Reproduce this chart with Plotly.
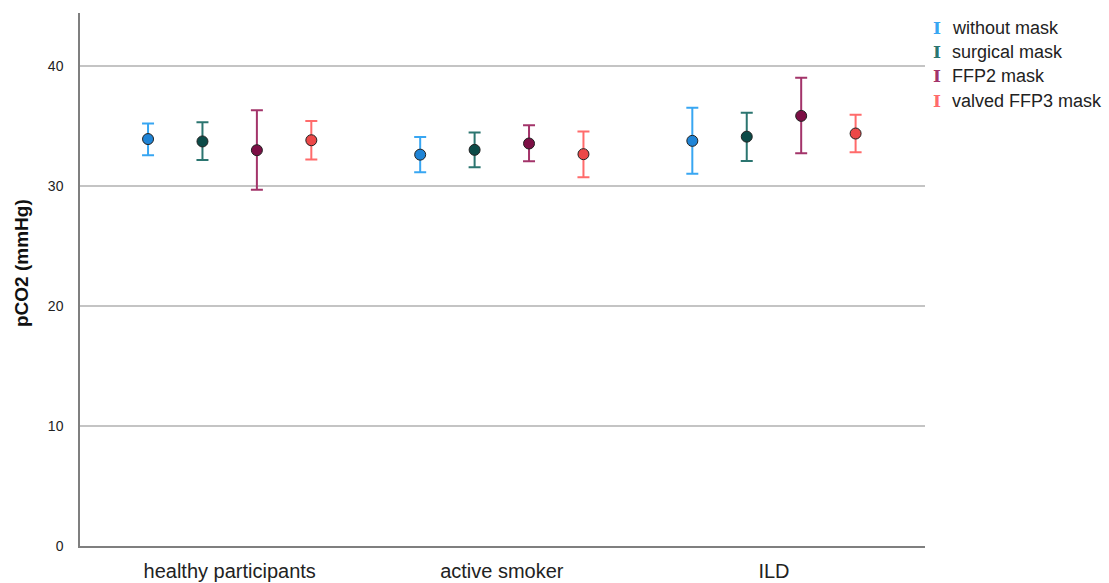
import plotly.graph_objects as go

# Groups on the x axis and mask conditions (series)
groups = ["healthy participants", "active smoker", "ILD"]
conditions = ["without mask", "surgical mask", "FFP2 mask", "valved FFP3 mask"]

# Mean pCO2 (mmHg) per condition, one value per group
mean_without = [33.9, 32.6, 33.75]
mean_surgical = [33.7, 33.0, 34.1]
mean_ffp2 = [32.97, 33.53, 35.83]
mean_ffp3 = [33.8, 32.64, 34.36]

# Upper / lower ends of the error bars
upper_without = [35.2, 34.08, 36.5]
lower_without = [32.55, 31.14, 31.0]
upper_surgical = [35.3, 34.45, 36.1]
lower_surgical = [32.15, 31.56, 32.08]
upper_ffp2 = [36.3, 35.05, 39.0]
lower_ffp2 = [29.67, 32.06, 32.72]
upper_ffp3 = [35.4, 34.53, 35.92]
lower_ffp3 = [32.2, 30.72, 32.8]

means = [mean_without, mean_surgical, mean_ffp2, mean_ffp3]
uppers = [upper_without, upper_surgical, upper_ffp2, upper_ffp3]
lowers = [lower_without, lower_surgical, lower_ffp2, lower_ffp3]

bar_colors = ["#38a6f2", "#2b7570", "#a3346a", "#ff6b6b"]
dot_colors = ["#1f84d6", "#0c4b48", "#7c0f45", "#ec4848"]
offsets = [-0.3, -0.1, 0.1, 0.3]

fig = go.Figure()

for name, m, up, lo, bc, dc, off in zip(conditions, means, uppers, lowers,
                                        bar_colors, dot_colors, offsets):
    xs = [i + off for i in range(len(groups))]
    fig.add_trace(go.Scatter(
        x=xs, y=m, mode="markers", name=name, showlegend=False,
        marker=dict(size=11, color=dc, line=dict(color="#222222", width=1)),
        error_y=dict(type="data", symmetric=False,
                     array=[u - v for u, v in zip(up, m)],
                     arrayminus=[v - l for v, l in zip(m, lo)],
                     color=bc, thickness=2, width=6),
    ))

# Legend entries: coloured "I" glyph followed by the condition name
for k, (name, bc) in enumerate(zip(conditions, bar_colors)):
    yk = 0.972 - k * 0.0455
    fig.add_annotation(xref="paper", yref="paper", x=1.0142, y=yk,
                       text="<b>I</b>", showarrow=False, xanchor="center", yanchor="middle",
                       font=dict(family="DejaVu Serif", size=17, color=bc))
    fig.add_annotation(xref="paper", yref="paper", x=1.0296, y=yk,
                       text=name, showarrow=False, xanchor="left", yanchor="middle",
                       font=dict(family="Liberation Sans", size=18, color="#222222"))

# Y axis title
fig.add_annotation(xref="paper", yref="paper", x=-0.0686, y=0.531,
                   text="<b>pCO2 (mmHg)</b>", showarrow=False, textangle=-90,
                   xanchor="center", yanchor="middle",
                   font=dict(family="Liberation Sans", size=19, color="#111111"))

fig.update_layout(
    width=1109, height=583,
    margin=dict(l=80, r=184, t=13, b=37),
    paper_bgcolor="white", plot_bgcolor="white",
    font=dict(family="Liberation Sans", color="#222222"),
    showlegend=False,
)
fig.update_xaxes(
    tickmode="array", tickvals=list(range(len(groups))), ticktext=groups,
    range=[-0.55, 2.555], showgrid=False, zeroline=False, automargin=False,
    showline=True, linecolor="#7f7f7f", linewidth=1.5,
    tickfont=dict(size=20, color="#222222"), ticks="", ticklabelstandoff=6,
)
fig.update_yaxes(
    range=[0, 44.4], tickvals=[0, 10, 20, 30, 40], automargin=False,
    showgrid=True, gridcolor="#c4c4c4", gridwidth=1.5, zeroline=False,
    showline=True, linecolor="#7f7f7f", linewidth=1.5,
    tickfont=dict(size=14, color="#222222"), ticks="", ticklabelstandoff=12,
)

fig.write_html("out.html")
